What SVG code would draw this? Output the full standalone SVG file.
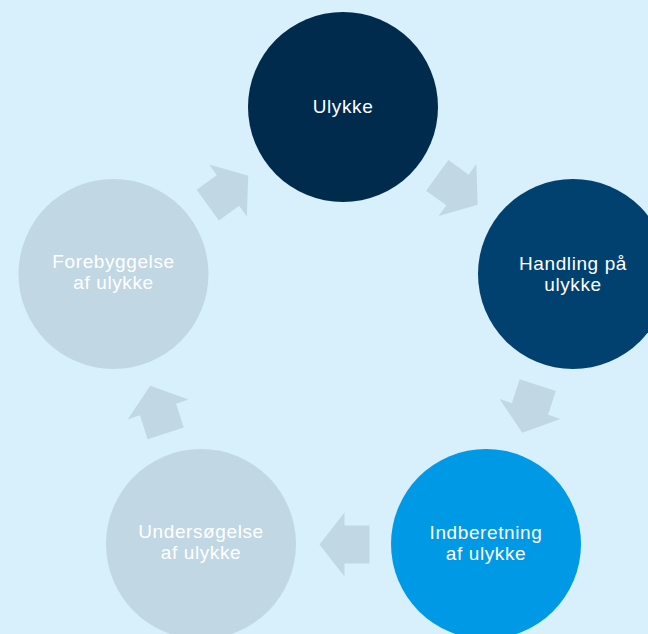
<svg xmlns="http://www.w3.org/2000/svg" width="648" height="634" viewBox="0 0 648 634">
<defs>
<style>
.lbl{font-family:"Liberation Sans","Open Sans",sans-serif;font-size:19px;letter-spacing:0.6px;fill:#ffffff;text-anchor:middle}
.arr{fill:#c1d7e4}
</style>
<polygon id="arrow" points="-25,-19 0,-19 0,-32 25,0 0,32 0,19 -25,19"/>
</defs>
<rect width="648" height="634" fill="#d8effc"/>
<g id="connectors" class="arr">
<use href="#arrow" transform="translate(457.5,190) rotate(36)"/>
<use href="#arrow" transform="translate(530,409) rotate(108)"/>
<use href="#arrow" transform="translate(344.5,544.5) rotate(180)"/>
<use href="#arrow" transform="translate(158,409.5) rotate(252)"/>
<use href="#arrow" transform="translate(228,190.5) rotate(324)"/>
</g>
<g id="ulykke">
<circle cx="343" cy="107" r="95" fill="#002b4d"/>
<text class="lbl" x="343" y="113">Ulykke</text>
</g>
<g id="handling">
<circle cx="573" cy="274" r="95" fill="#004170"/>
<text class="lbl" x="573" y="270">Handling på</text>
<text class="lbl" x="573" y="290.5">ulykke</text>
</g>
<g id="indberetning">
<circle cx="486" cy="544" r="95" fill="#0099e6"/>
<text class="lbl" x="486" y="539">Indberetning</text>
<text class="lbl" x="486" y="560">af ulykke</text>
</g>
<g id="undersoegelse">
<circle cx="201" cy="544" r="95" fill="#c1d7e4"/>
<text class="lbl" x="201" y="538">Undersøgelse</text>
<text class="lbl" x="201" y="559">af ulykke</text>
</g>
<g id="forebyggelse">
<circle cx="113.5" cy="274" r="95" fill="#c1d7e4"/>
<text class="lbl" x="113.5" y="268">Forebyggelse</text>
<text class="lbl" x="113.5" y="289">af ulykke</text>
</g>
</svg>
